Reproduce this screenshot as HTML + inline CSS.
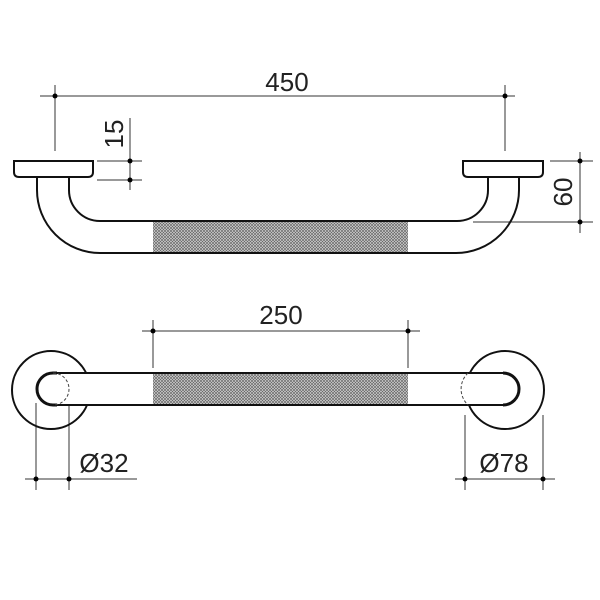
<!DOCTYPE html>
<html><head><style>body{margin:0;background:#fff}svg{display:block}text{font-family:"Liberation Sans",sans-serif;fill:#222}</style></head><body>
<svg width="600" height="600" viewBox="0 0 600 600" xmlns="http://www.w3.org/2000/svg">
<defs>
<pattern id="h" width="3" height="3" patternUnits="userSpaceOnUse">
<rect width="3" height="3" fill="#d8d8d8"/>
<path d="M0,0L3,3M3,0L0,3" stroke="#666" stroke-width="0.7"/>
</pattern>
</defs>
<g stroke="#333" stroke-width="1" fill="none">
<line x1="40" y1="96" x2="515" y2="96"/>
<line x1="55" y1="85" x2="55" y2="151"/>
<line x1="505" y1="85" x2="505" y2="151"/>
<line x1="130" y1="118" x2="130" y2="190"/>
<line x1="97" y1="161" x2="142" y2="161"/>
<line x1="97" y1="180" x2="142" y2="180"/>
<line x1="580" y1="152" x2="580" y2="233"/>
<line x1="550" y1="161" x2="593" y2="161"/>
<line x1="473" y1="222" x2="593" y2="222"/>
<line x1="142" y1="331" x2="420" y2="331"/>
<line x1="153" y1="320" x2="153" y2="368"/>
<line x1="408" y1="320" x2="408" y2="368"/>
<line x1="36" y1="403" x2="36" y2="490"/>
<line x1="69" y1="403" x2="69" y2="490"/>
<line x1="25" y1="479" x2="137" y2="479"/>
<line x1="465" y1="415" x2="465" y2="490"/>
<line x1="543" y1="415" x2="543" y2="490"/>
<line x1="455" y1="479" x2="555" y2="479"/>
</g>
<g fill="#000">
<circle cx="55" cy="96" r="2.5"/><circle cx="505" cy="96" r="2.5"/>
<circle cx="130" cy="161" r="2.5"/><circle cx="130" cy="180" r="2.5"/>
<circle cx="580" cy="161" r="2.5"/><circle cx="580" cy="222" r="2.5"/>
<circle cx="153" cy="331" r="2.5"/><circle cx="408" cy="331" r="2.5"/>
<circle cx="36" cy="479" r="2.5"/><circle cx="69" cy="479" r="2.5"/>
<circle cx="465" cy="479" r="2.5"/><circle cx="543" cy="479" r="2.5"/>
</g>
<rect x="153" y="221" width="255" height="32" fill="url(#h)"/>
<g stroke="#111" stroke-width="2" fill="none">
<path d="M14,161 H93 V172 Q93,177 88,177 H19 Q14,177 14,172 Z"/>
<path d="M463,161 H543 V172 Q543,177 538,177 H468 Q463,177 463,172 Z"/>
<path d="M37,177 V190 A63,63 0 0 0 100,253 H456 A63,63 0 0 0 519,190 V177"/>
<path d="M69,177 V190 A31,31 0 0 0 100,221 H457 A31,31 0 0 0 488,190 V177"/>
<circle cx="51" cy="390" r="39"/>
<circle cx="505" cy="390" r="39"/>
</g>
<rect x="55" y="373" width="450" height="32" fill="#fff"/>
<rect x="153" y="373" width="255" height="32" fill="url(#h)"/>
<g stroke="#111" stroke-width="2" fill="none">
<path d="M56,373 H503 M56,405 H503"/>
<path d="M57,373 H53 A16,16 0 0 0 53,405 H57" stroke-width="3"/>
<path d="M503,373 A16,16 0 0 1 503,405" stroke-width="3"/>
</g>
<g stroke="#444" stroke-width="1" fill="none" stroke-dasharray="3,2">
<path d="M53,373 A16,16 0 0 1 53,405"/>
<path d="M468,373 A22,22 0 0 0 468,405"/>
</g>
<text x="287" y="91" font-size="26" text-anchor="middle">450</text>
<text x="281" y="324" font-size="26" text-anchor="middle">250</text>
<text x="104" y="472" font-size="26" text-anchor="middle">Ø32</text>
<text x="504" y="472" font-size="26" text-anchor="middle">Ø78</text>
<text transform="translate(123,134) rotate(-90)" font-size="26" text-anchor="middle">15</text>
<text transform="translate(572,192) rotate(-90)" font-size="26" text-anchor="middle">60</text>
</svg>
</body></html>
